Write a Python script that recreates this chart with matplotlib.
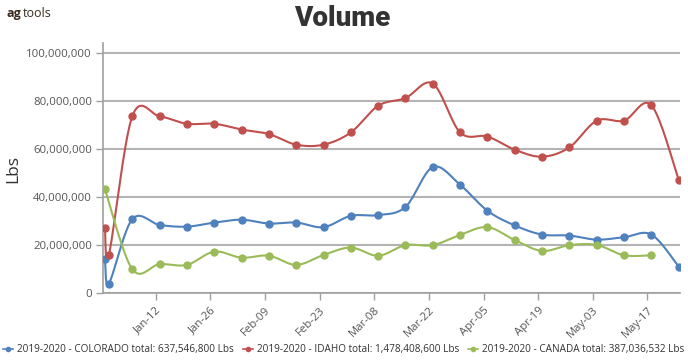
import numpy as np
import matplotlib
matplotlib.use("Agg")
import matplotlib.pyplot as plt
import matplotlib.dates as mdates
from matplotlib.lines import Line2D
import datetime as dt

# data (values in Lbs)
weeks = ["2019-12-30", "2019-12-31", "2020-01-06", "2020-01-13", "2020-01-20",
         "2020-01-27", "2020-02-03", "2020-02-10", "2020-02-17", "2020-02-24",
         "2020-03-02", "2020-03-09", "2020-03-16", "2020-03-23", "2020-03-30",
         "2020-04-06", "2020-04-13", "2020-04-20", "2020-04-27", "2020-05-04",
         "2020-05-11", "2020-05-18", "2020-05-25"]

colorado = [14.0, 3.9, 30.7, 28.3, 27.6, 29.3, 30.5, 28.9, 29.3, 27.4, 32.1, 32.4,
            35.8, 52.4, 45.0, 34.2, 28.1, 24.3, 23.9, 22.2, 23.2, 24.3, 11.0]
idaho = [27.2, 15.7, 73.5, 73.5, 70.4, 70.4, 68.0, 66.1, 61.7, 61.7, 66.8, 77.9,
         81.1, 87.1, 66.8, 65.1, 59.6, 56.7, 60.6, 71.7, 71.7, 78.1, 47.1]
# canada has no Dec-31 and no May-25 point
canada = [43.2, None, 9.9, 12.0, 11.7, 17.2, 14.7, 15.5, 11.7, 15.8, 18.9, 15.5,
          19.9, 19.9, 24.2, 27.4, 22.0, 17.5, 19.9, 20.0, 15.7, 15.7, None]

labels = ["2019-2020 - COLORADO total: 637,546,800 Lbs",
          "2019-2020 - IDAHO total: 1,478,408,600 Lbs",
          "2019-2020 - CANADA total: 387,036,532 Lbs"]
colors = ["#4f81bd", "#c0504d", "#9bbb59"]

plt.rcParams['font.family'] = ['Open Sans', 'DejaVu Sans']


def smooth(xs, ys, n=20):
    # catmull-rom style bezier between points
    xs = np.asarray(xs, float)
    ys = np.asarray(ys, float)
    px = np.concatenate([[xs[0]], xs, [xs[-1]]])
    py = np.concatenate([[ys[0]], ys, [ys[-1]]])
    outx, outy = [], []
    t = np.linspace(0, 1, n)
    for i in range(1, len(px) - 2):
        p0 = np.array([px[i], py[i]])
        p3 = np.array([px[i + 1], py[i + 1]])
        c1 = p0 + (np.array([px[i + 1], py[i + 1]]) - np.array([px[i - 1], py[i - 1]])) / 6
        c2 = p3 - (np.array([px[i + 2], py[i + 2]]) - np.array([px[i], py[i]])) / 6
        # keep x monotonic
        c1[0] = min(max(c1[0], p0[0]), p3[0])
        c2[0] = min(max(c2[0], p0[0]), p3[0])
        b = ((1 - t) ** 3)[:, None] * p0 + (3 * (1 - t) ** 2 * t)[:, None] * c1 \
            + (3 * (1 - t) * t ** 2)[:, None] * c2 + (t ** 3)[:, None] * p3
        outx.extend(b[:, 0])
        outy.extend(b[:, 1])
    return np.array(outx), np.array(outy)


fig = plt.figure(figsize=(6.88, 3.6), dpi=100)
ax = fig.add_axes([0.1497, 0.1861, 0.8387, 0.6945])

dates = [mdates.date2num(dt.datetime.strptime(d, "%Y-%m-%d")) for d in weeks]

for vals, col, lab in zip([colorado, idaho, canada], colors, labels):
    xs = [d for d, v in zip(dates, vals) if v is not None]
    ys = [v * 1e6 for v in vals if v is not None]
    sx, sy = smooth(xs, ys)
    ax.plot(sx, sy, color=col, lw=1.5, zorder=3)
    ax.plot(xs, ys, 'o', color=col, ms=5, zorder=4)

ax.set_xlim(mdates.date2num(dt.datetime(2019, 12, 29, 12)), mdates.date2num(dt.datetime(2020, 5, 25, 8)))
ax.set_ylim(0, 104e6)

ax.set_yticks(np.arange(0, 100e6 + 1, 20e6))
ax.yaxis.set_major_formatter(matplotlib.ticker.FuncFormatter(lambda v, p: f"{int(v):,}"))
ax.set_xticks([mdates.date2num(dt.datetime(2020, 1, 12) + dt.timedelta(days=14 * k)) for k in range(10)])
ax.xaxis.set_major_formatter(mdates.DateFormatter("%b-%d"))

ax.grid(axis='y', color='#b4b4b4', lw=1.5, zorder=0)
ax.set_axisbelow(True)
for s in ['top', 'right']:
    ax.spines[s].set_visible(False)
for s in ['left', 'bottom']:
    ax.spines[s].set_color('#a0a0a0')
    ax.spines[s].set_linewidth(1.2)
ax.tick_params(axis='both', colors='#a0a0a0', labelcolor='#555555', labelsize=8.2, length=5, width=1)
ax.tick_params(axis='y', pad=3)
plt.setp(ax.get_xticklabels(), rotation=45, ha='right', va='top', rotation_mode='anchor')

fig.text(0.019, 0.53, "Lbs", rotation=90, ha='center', va='center', fontsize=12.5, color='#333333')

fig.text(0.497, 0.948, "Volume", ha='center', va='center', fontsize=20, fontweight='black',
         color='#333333', family=['Roboto', 'DejaVu Sans'])
fig.text(0.01, 0.962, "ag", ha='left', va='center', fontsize=9, fontweight='bold', color='#3b2a1e')
fig.text(0.0335, 0.962, "tools", ha='left', va='center', fontsize=9, color='#3b2a1e')

handles = [Line2D([0], [0], color=c, lw=1.2, marker='o', ms=3) for c in colors]
fig.legend(handles, labels, loc='lower center', bbox_to_anchor=(0.5, -0.012), ncol=3, frameon=False,
           fontsize=7.2, handlelength=1.0, handletextpad=0.4, columnspacing=0.9, labelcolor='#333333')

fig.savefig("out.png", dpi=100)
